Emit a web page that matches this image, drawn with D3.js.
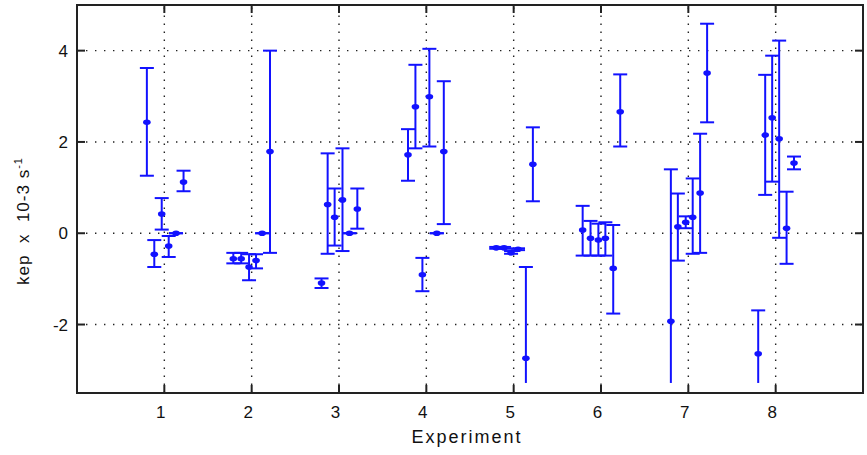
<!DOCTYPE html>
<html>
<head>
<meta charset="utf-8">
<script src="https://cdn.jsdelivr.net/npm/d3@7"></script>
<style>
  html, body { margin: 0; padding: 0; background: #ffffff; }
  svg { display: block; }
  text { font-family: Arial, "Liberation Sans", sans-serif; fill: #111; }
</style>
</head>
<body>
<svg id="chart" width="867" height="455"></svg>
<script>
// ---- data ----
const xTicks = [1, 2, 3, 4, 5, 6, 7, 8];
const yTicks = [-2, 0, 2, 4];
const xPos = [
  0.80, 0.885, 0.97, 1.05, 1.134, 1.22,
  1.79, 1.88, 1.97, 2.05, 2.12, 2.21,
  2.80, 2.87, 2.95, 3.04, 3.12, 3.21,
  3.79, 3.875, 3.955, 4.035, 4.12, 4.20,
  4.80, 4.89, 4.97, 5.05, 5.14, 5.22,
  5.79, 5.88, 5.97, 6.05, 6.14, 6.22,
  6.80, 6.88, 6.97, 7.05, 7.135, 7.215,
  7.80, 7.88, 7.96, 8.04, 8.125, 8.21
];
const kep = [
  2.43, -0.46, 0.42, -0.28, 0.00, 1.12,
  -0.56, -0.56, -0.74, -0.60, 0.00, 1.79,
  -1.09, 0.63, 0.35, 0.73, 0.00, 0.53,
  1.72, 2.77, -0.91, 2.99, 0.00, 1.79,
  -0.32, -0.32, -0.43, -0.35, -2.74, 1.51,
  0.07, -0.11, -0.15, -0.11, -0.77, 2.66,
  -1.93, 0.14, 0.24, 0.35, 0.88, 3.51,
  -2.64, 2.15, 2.53, 2.07, 0.11, 1.54
];
const kepLow = [
  1.26, -0.74, 0.08, -0.52, 0.00, 0.92,
  -0.66, -0.66, -1.03, -0.77, 0.00, -0.43,
  -1.20, -0.45, -0.27, -0.39, 0.00, 0.10,
  1.15, 1.86, -1.27, 1.90, 0.00, 0.20,
  -0.34, -0.34, -0.45, -0.37, -3.28, 0.70,
  -0.49, -0.49, -0.49, -0.49, -1.76, 1.90,
  -3.28, -0.60, 0.11, -0.45, -0.43, 2.43,
  -3.28, 0.84, 1.13, -0.10, -0.67, 1.40
];
const kepHigh = [
  3.62, -0.15, 0.77, -0.06, 0.00, 1.37,
  -0.43, -0.43, -0.46, -0.46, 0.00, 4.00,
  -0.99, 1.75, 0.98, 1.86, 0.00, 0.98,
  2.28, 3.69, -0.54, 4.04, 0.00, 3.33,
  -0.30, -0.30, -0.39, -0.33, -0.74, 2.32,
  0.60, 0.27, 0.21, 0.24, 0.18, 3.48,
  1.40, 0.87, 0.37, 1.20, 2.18, 4.59,
  -1.69, 3.47, 3.89, 4.22, 0.91, 1.68
];
const xLabel = "Experiment";
const yLabelMain = "kep  x  10-3 s";
const yLabelSup = "-1";

// ---- layout ----
const svg = d3.select("#chart");
const L = 77, R = 863, T = 5, B = 393;
const x = d3.scaleLinear().domain([0, 9]).range([L, R]);
const y = d3.scaleLinear().domain([-3.5, 5]).range([B, T]);
const blue = "#1212ff";
const capHalf = 7;
const clipLow = -3.25; // bars running past the bottom show no cap

// grid
const grid = svg.append("g");
grid.selectAll("line.vx").data(xTicks).enter().append("line")
  .attr("x1", d => x(d)).attr("x2", d => x(d)).attr("y1", B).attr("y2", T)
  .attr("stroke", "#222").attr("stroke-width", 1.4).attr("stroke-dasharray", "1.4,6.6");
grid.selectAll("line.hy").data(yTicks).enter().append("line")
  .attr("x1", L).attr("x2", R).attr("y1", d => y(d)).attr("y2", d => y(d))
  .attr("stroke", "#222").attr("stroke-width", 1.4).attr("stroke-dasharray", "1.4,7.6");

// error bars
const pts = xPos.map((v, i) => ({ x: v, m: kep[i], lo: kepLow[i], hi: kepHigh[i] }));
const eb = svg.append("g").attr("stroke", blue).attr("stroke-width", 2).attr("fill", "none");
pts.forEach(p => {
  const cx = x(p.x);
  eb.append("line").attr("x1", cx).attr("x2", cx).attr("y1", y(p.lo)).attr("y2", y(p.hi));
  eb.append("line").attr("x1", cx - capHalf).attr("x2", cx + capHalf).attr("y1", y(p.hi)).attr("y2", y(p.hi));
  if (p.lo > clipLow) {
    eb.append("line").attr("x1", cx - capHalf).attr("x2", cx + capHalf).attr("y1", y(p.lo)).attr("y2", y(p.lo));
  }
});
svg.append("g").selectAll("ellipse").data(pts).enter().append("ellipse")
  .attr("cx", d => x(d.x)).attr("cy", d => y(d.m)).attr("rx", 3.8).attr("ry", 2.8)
  .attr("fill", blue);

// axes box
const axc = "#222";
svg.append("rect").attr("x", L).attr("y", T).attr("width", R - L).attr("height", B - T)
  .attr("fill", "none").attr("stroke", axc).attr("stroke-width", 2);
const tl = 8;
const tk = svg.append("g").attr("stroke", axc).attr("stroke-width", 2);
xTicks.forEach(d => {
  tk.append("line").attr("x1", x(d)).attr("x2", x(d)).attr("y1", B).attr("y2", B - tl);
  tk.append("line").attr("x1", x(d)).attr("x2", x(d)).attr("y1", T).attr("y2", T + tl);
});
yTicks.forEach(d => {
  tk.append("line").attr("x1", L).attr("x2", L + tl).attr("y1", y(d)).attr("y2", y(d));
  tk.append("line").attr("x1", R).attr("x2", R - tl).attr("y1", y(d)).attr("y2", y(d));
});

// tick labels
svg.append("g").selectAll("text").data(xTicks).enter().append("text")
  .attr("x", d => x(d) - 3.5).attr("y", 418).attr("text-anchor", "middle")
  .style("font-size", "17px").text(d => d);
svg.append("g").selectAll("text").data(yTicks).enter().append("text")
  .attr("x", 68).attr("y", d => y(d) + 6).attr("text-anchor", "end")
  .style("font-size", "17px").text(d => d);

// axis labels
svg.append("text").attr("x", 467).attr("y", 443).attr("text-anchor", "middle")
  .style("font-size", "18px").style("letter-spacing", "2px").text(xLabel);
const yl = svg.append("text").attr("transform", "translate(29,221) rotate(-90)")
  .attr("text-anchor", "middle").style("font-size", "17px").style("letter-spacing", "1px")
  .style("white-space", "pre");
yl.append("tspan").text(yLabelMain);
yl.append("tspan").attr("dy", -7).style("font-size", "11px").text(yLabelSup);
</script>
</body>
</html>
